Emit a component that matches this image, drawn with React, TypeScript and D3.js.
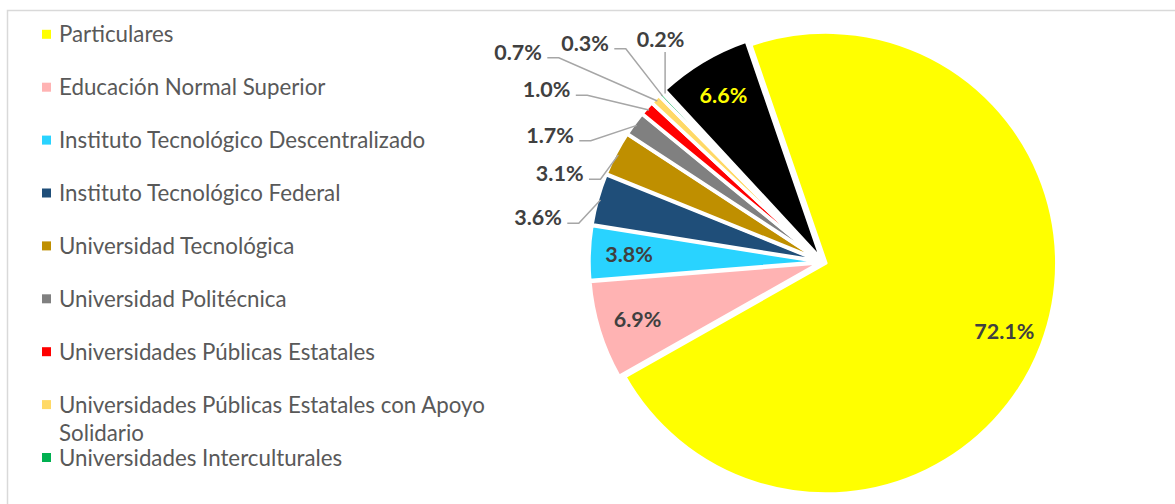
import React from "react";
import * as d3 from "d3";

// ---- data ----
const categories = [
  "Particulares",
  "Educación Normal Superior",
  "Instituto Tecnológico Descentralizado",
  "Instituto Tecnológico Federal",
  "Universidad Tecnológica",
  "Universidad Politécnica",
  "Universidades Públicas Estatales",
  "Universidades Públicas Estatales con Apoyo Solidario",
  "Universidades Interculturales",
  "Universidades Públicas Federales",
  "Otras Instituciones Públicas",
];
const values = [72.1, 6.9, 3.8, 3.6, 3.1, 1.7, 1.0, 0.7, 0.3, 0.2, 6.6];
const colors = [
  "#FFFF00", "#FFB3B3", "#29D3FF", "#1F4E79", "#BF8F00", "#808080",
  "#FF0000", "#FFD966", "#00B050", "#7030A0", "#000000",
];
// legend lines as displayed (the 8th entry wraps; last two are clipped in the original)
const legendLines: string[][] = [
  ["Particulares"],
  ["Educación Normal Superior"],
  ["Instituto Tecnológico Descentralizado"],
  ["Instituto Tecnológico Federal"],
  ["Universidad Tecnológica"],
  ["Universidad Politécnica"],
  ["Universidades Públicas Estatales"],
  ["Universidades Públicas Estatales con Apoyo", "Solidario"],
  ["Universidades Interculturales"],
];

// ---- layout ----
const W = 1175, H = 504;
const CX = 823, CY = 262, R = 231, EXPLODE = 3;
const START = (-19 * Math.PI) / 180;
const INSIDE_R = 194;
const insideIdx = new Set([0, 1, 2, 10]);
// hand-placed outside label centers (Excel best-fit positions)
const outsideLabelPos: Record<number, [number, number]> = {
  3: [538, 217.5],
  4: [559.7, 173.5],
  5: [550, 135],
  6: [546.5, 89.5],
  7: [518, 52],
  8: [585, 43],
  9: [660.5, 39.5],
};
const LABEL_FONT = 21.5;
const LEGEND_FONT = 22.3;
const FONT = "Lato, 'Open Sans', sans-serif";

export default function App() {
  const pie = d3
    .pie<number>()
    .sort(null)
    .value((d) => d)
    .startAngle(START)
    .endAngle(START + 2 * Math.PI);
  const arcs = pie(values);
  const arcGen = d3.arc<d3.PieArcDatum<number>>().innerRadius(0).outerRadius(R);
  const labelArc = d3
    .arc<d3.PieArcDatum<number>>()
    .innerRadius(INSIDE_R)
    .outerRadius(INSIDE_R);

  const fmt = (v: number) => v.toFixed(1) + "%";

  return (
    <svg
      width={W}
      height={H}
      style={{ position: "absolute", left: 0, top: 0, background: "#fff" }}
      fontFamily={FONT}
    >
      <rect x={7.5} y={10.5} width={1200} height={600} fill="#fff" stroke="#D9D9D9" strokeWidth={1.5} />

      {/* legend */}
      {legendLines.map((lines, i) => {
        const cy = 34.3 + i * 52.9;
        return (
          <g key={i}>
            <rect x={42} y={cy - 4.5} width={9} height={9} fill={colors[i]} />
            {lines.map((t, j) => (
              <text key={j} x={59} y={cy + 8 + j * 28} fontSize={LEGEND_FONT} fill="#595959">
                {t}
              </text>
            ))}
          </g>
        );
      })}

      {/* pie */}
      <g transform={`translate(${CX},${CY})`}>
        {arcs.map((a, i) => {
          const mid = (a.startAngle + a.endAngle) / 2;
          const dx = EXPLODE * Math.sin(mid);
          const dy = -EXPLODE * Math.cos(mid);
          return (
            <path
              key={i}
              d={arcGen(a) || ""}
              transform={`translate(${dx},${dy})`}
              fill={colors[i]}
              stroke="#fff"
              strokeWidth={3.5}
              strokeLinejoin="round"
            />
          );
        })}
      </g>

      {/* inside labels */}
      {arcs.map((a, i) => {
        if (!insideIdx.has(i)) return null;
        const [lx, ly] = labelArc.centroid(a);
        return (
          <text
            key={"in" + i}
            x={CX + lx}
            y={CY + ly + LABEL_FONT * 0.36}
            textAnchor="middle"
            fontSize={LABEL_FONT}
            fontWeight="bold"
            fill={i === 10 ? "#FFFF00" : "#404040"}
          >
            {fmt(values[i])}
          </text>
        );
      })}

      {/* outside labels with leader lines */}
      {arcs.map((a, i) => {
        const pos = outsideLabelPos[i];
        if (!pos) return null;
        const mid = (a.startAngle + a.endAngle) / 2;
        const ax = CX + R * Math.sin(mid);
        const ay = CY - R * Math.cos(mid);
        const [tx, ty] = pos;
        const halfW = 23.3;
        let pts: [number, number][];
        if (i === 9) {
          pts = [
            [ax, ay],
            [ax, ty + 12.5],
          ];
        } else {
          const ly = ty + 5.8;
          const x0 = tx + halfW + 6;
          pts = [
            [x0, ly],
            [x0 + 11.5, ly],
            [ax, ay],
          ];
        }
        return (
          <g key={"out" + i}>
            <polyline
              points={pts.map((p) => p.join(",")).join(" ")}
              fill="none"
              stroke="#A6A6A6"
              strokeWidth={1.5}
            />
            <text
              x={tx}
              y={ty + LABEL_FONT * 0.36}
              textAnchor="middle"
              fontSize={LABEL_FONT}
              fontWeight="bold"
              fill="#404040"
            >
              {fmt(values[i])}
            </text>
          </g>
        );
      })}
    </svg>
  );
}
